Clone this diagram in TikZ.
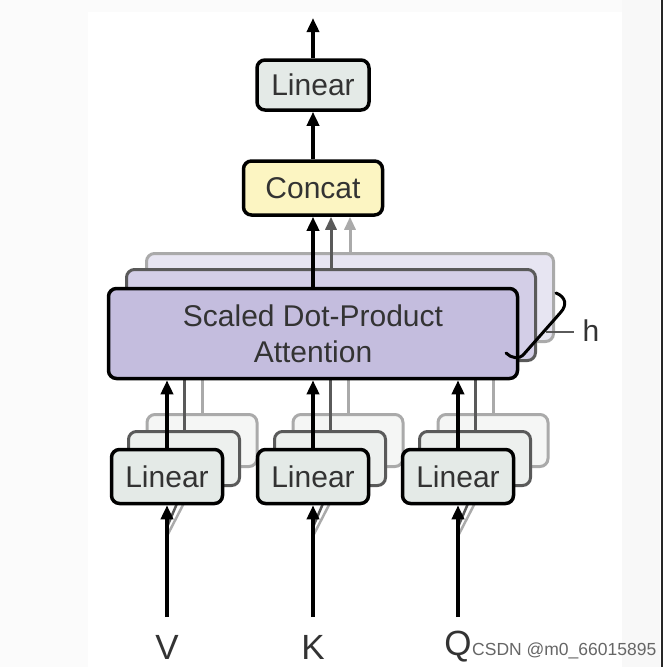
\documentclass[tikz,border=0pt]{standalone}
\usepackage{fontspec}
\setmainfont{Liberation Sans}
\usetikzlibrary{arrows.meta,calc}
\definecolor{linfill}{HTML}{E4EAE7}
\definecolor{linfillB}{HTML}{EDF0EE}
\definecolor{linfillC}{HTML}{F5F6F5}
\definecolor{catfill}{HTML}{FCF5C2}
\definecolor{attfill}{HTML}{C4BDDE}
\definecolor{attfillB}{HTML}{D3CEE7}
\definecolor{attfillC}{HTML}{E7E5F2}
\definecolor{txt}{HTML}{333333}
\definecolor{edgeB}{HTML}{5A5A5A}
\definecolor{edgeC}{HTML}{AAAAAA}
\definecolor{bgL}{HTML}{FBFBFB}
\definecolor{bgR}{HTML}{F8F8F8}
\tikzset{
  box/.style={draw=black, line width=3.5pt, rounded corners=8pt, inner sep=0pt,
    text=txt, font=\fontsize{30}{36}\selectfont, align=center},
  backB/.style={draw=edgeB, line width=3pt, rounded corners=8pt, inner sep=0pt},
  backC/.style={draw=edgeC, line width=3pt, rounded corners=8pt, inner sep=0pt},
  linbox/.style={box, fill=linfill, minimum width=111pt, minimum height=54pt},
  linboxB/.style={backB, fill=linfillB, minimum width=111pt, minimum height=54pt},
  linboxC/.style={backC, fill=linfillC, minimum width=110pt, minimum height=52pt},
  arr/.style={line width=3.5pt, -{Triangle[length=14pt,width=12pt]}},
  arrB/.style={line width=3pt, draw=edgeB, -{Triangle[length=13pt,width=11pt]}},
  arrC/.style={line width=3pt, draw=edgeC, -{Triangle[length=13pt,width=11pt]}},
  lnB/.style={line width=3pt, draw=edgeB},
  lnC/.style={line width=3pt, draw=edgeC},
  lbl/.style={inner sep=0pt, text=txt, font=\fontsize{35}{40}\selectfont},
}
\begin{document}
\begin{tikzpicture}[x=1pt,y=-1pt]
% background
\fill[white] (0,0) rectangle (664,667);
\fill[bgL] (0,0) rectangle (88,667);
\fill[bgL] (88,0) rectangle (622,12);
\fill[bgR] (622,0) rectangle (660,667);
\fill[black!85] (660.5,0) rectangle (663,667);
\useasboundingbox (0,0) rectangle (664,667);

% ---- attention stack (back) ----
\node[backC, fill=attfillC, minimum width=407pt, minimum height=88pt] (attn3) at (350,297.5) {};
\node[backB, fill=attfillB, minimum width=409pt, minimum height=91pt] (attn2) at (331,315) {};

% ---- linear back boxes ----
\foreach \n/\x in {V/167,K/313,Q/458}{
  \node[linboxC] (lin\n3) at (\x+35,440.5) {};
  \draw[lnC] (lin\n3.north) -- (lin\n3.north |- attn3.south);
}
\foreach \n/\x in {V/167,K/313,Q/458}{
  \node[linboxB] (lin\n2) at (\x+17,458.5) {};
  \draw[lnB] (lin\n2.north) -- (lin\n2.north |- attn2.south);
}

% ---- concat and top linear ----
\node[box, fill=catfill, minimum width=139pt, minimum height=54pt] (concat) at (313,188) {Concat};
\node[box, fill=linfill, minimum width=112pt, minimum height=50pt] (linTop) at (313,85) {Linear};
\coordinate (outTop) at (313,18);

\draw[arrB] (attn2.north) -- (attn2.north |- concat.south);
\draw[arrC] (attn3.north) -- (attn3.north |- concat.south);

% ---- front attention ----
\node[box, fill=attfill, minimum width=409pt, minimum height=90pt] (attn) at (313,333.5)
  {Scaled Dot-Product\\Attention};

% ---- input diagonals (behind front linear boxes) ----
\foreach \n/\x in {V/167,K/313,Q/458}{
  \coordinate (d\n1) at (\x,527);
  \coordinate (d\n2) at (\x,536);
  \draw[line width=2.5pt, draw=edgeB] (d\n1) -- (lin\n2.south);
  \draw[line width=2.5pt, draw=edgeC] (d\n2) -- (lin\n3.south);
}

% ---- front linear boxes ----
\foreach \n/\x in {V/167,K/313,Q/458}{
  \node[linbox] (lin\n) at (\x,476.5) {Linear};
  \coordinate (in\n) at (\x,617);
  \node[lbl] (lab\n) at (\x,647) {\n};
  \draw[arr] (in\n) -- (lin\n.south);
  \draw[arr] (lin\n.north) -- (lin\n.north |- attn.south);
}

% ---- main arrows ----
\draw[arr] (attn.north) -- (concat.south);
\draw[arr] (concat.north) -- (linTop.south);
\draw[arr] (linTop.north) -- (outTop);

% ---- h brace ----
\draw[line width=3pt, line cap=round]
  (556,293) .. controls (566,297) and (567,305) .. (561,312)
  -- (524,354) .. controls (519,360) and (511,358) .. (506,353);
\node[inner sep=0pt, text=txt, font=\fontsize{30}{36}\selectfont] (hlab) at (591,331) {h};
\coordinate (hstart) at (546,332);
\draw[line width=2.2pt, draw=edgeB] (hstart) -- (574,332);

% ---- watermark ----
\node[anchor=west, inner sep=0pt, text=black!60, font=\fontsize{17.5}{20}\selectfont] (wm) at (472,651) {CSDN @m0\_66015895};
\end{tikzpicture}
\end{document}
